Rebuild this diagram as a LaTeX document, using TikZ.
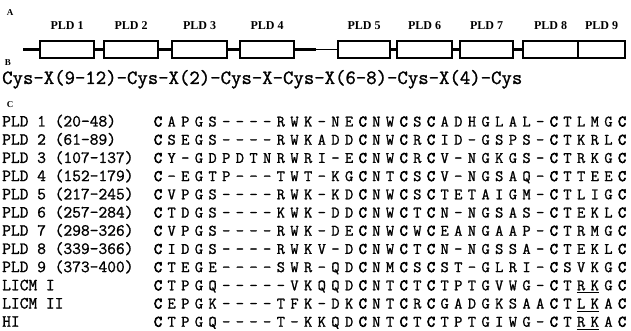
\documentclass[tikz,border=0pt]{standalone}
\usepackage{fontspec}
\newfontfamily\panelfont{Liberation Serif}
\newfontfamily\monoreg{lmmono12-regular.otf}[BoldFont=lmmono12-regular.otf, BoldFeatures={FakeBold=1.2}]
\newfontfamily\monoheavy{lmmono12-regular.otf}[BoldFont=lmmono12-regular.otf, BoldFeatures={FakeBold=3.8}]
\def\seqC{C}
\tikzset{
  panel/.style={font=\panelfont\bfseries\fontsize{9}{9}\selectfont, inner sep=0pt},
  pldbox/.style={draw, line width=2.1pt, minimum height=17pt, inner sep=0pt},
  pldlab/.style={font=\panelfont\bfseries\fontsize{12}{12}\selectfont, inner sep=0pt, anchor=base},
  backbone/.style={line width=2.1pt},
  thinbone/.style={line width=1pt},
  rowlab/.style={font=\monoreg\bfseries\fontsize{17}{17}\selectfont, inner sep=0pt, anchor=base west},
  seqch/.style={font=\monoreg\bfseries\fontsize{16}{16}\selectfont, inner sep=0pt, anchor=base},
  motif/.style={font=\monoreg\bfseries\fontsize{20.2}{21}\selectfont, inner sep=0pt, anchor=base west},
  ul/.style={line width=1pt}
}
\begin{document}
\begin{tikzpicture}[x=1pt,y=1pt]
\useasboundingbox (0,0) rectangle (631,-331);
% panel letters
\node[panel] (pA) at (10,-13) {A};
\node[panel] (pB) at (8,-63) {B};
\node[panel] (pC) at (10,-105) {C};
% panel A boxes
\foreach \i/\c/\w in {1/67/54, 2/131/54, 3/199.5/55, 4/267/54, 5/364/52, 6/424.5/55, 7/486.5/53, 8/550.5/55, 9/601.5/47}{
  \node[pldbox, minimum width=\w pt] (p\i) at (\c,-49.5) {};
  \node[pldlab] (l\i) at ([yshift=10pt]p\i.north) {PLD \i};
}
\coordinate (st) at (23,-49.5);
\coordinate (mid) at (316,-49.5);
\draw[backbone] (st) -- (p1.west);
\draw[backbone] (p1.east) -- (p2.west);
\draw[backbone] (p2.east) -- (p3.west);
\draw[backbone] (p3.east) -- (p4.west);
\draw[backbone] (p4.east) -- (mid);
\draw[thinbone] (mid) -- (p5.west);
\draw[backbone] (p5.east) -- (p6.west);
\draw[backbone] (p6.east) -- (p7.west);
\draw[backbone] (p7.east) -- (p8.west);
% panel B
\node[motif] (cys) at (2,-84) {Cys-X(9-12)-Cys-X(2)-Cys-X-Cys-X(6-8)-Cys-X(4)-Cys};
% panel C
\foreach \lab/\seq [count=\i] in {
 {PLD 1 (20-48)}/{C,A,P,G,S,-,-,-,-,R,W,K,-,N,E,C,N,W,C,S,C,A,D,H,G,L,A,L,-,C,T,L,M,G,C},
 {PLD 2 (61-89)}/{C,S,E,G,S,-,-,-,-,R,W,K,A,D,D,C,N,W,C,R,C,I,D,-,G,S,P,S,-,C,T,K,R,L,C},
 {PLD 3 (107-137)}/{C,Y,-,G,D,P,D,T,N,R,W,R,I,-,E,C,N,W,C,R,C,V,-,N,G,K,G,S,-,C,T,R,K,G,C},
 {PLD 4 (152-179)}/{C,-,E,G,T,P,-,-,-,T,W,T,-,K,G,C,N,T,C,S,C,V,-,N,G,S,A,Q,-,C,T,T,E,E,C},
 {PLD 5 (217-245)}/{C,V,P,G,S,-,-,-,-,R,W,K,-,K,D,C,N,W,C,S,C,T,E,T,A,I,G,M,-,C,T,L,I,G,C},
 {PLD 6 (257-284)}/{C,T,D,G,S,-,-,-,-,K,W,K,-,D,D,C,N,W,C,T,C,N,-,N,G,S,A,S,-,C,T,E,K,L,C},
 {PLD 7 (298-326)}/{C,V,P,G,S,-,-,-,-,R,W,K,-,D,E,C,N,W,C,W,C,E,A,N,G,A,A,P,-,C,T,R,M,G,C},
 {PLD 8 (339-366)}/{C,I,D,G,S,-,-,-,-,R,W,K,V,-,D,C,N,W,C,T,C,N,-,N,G,S,S,A,-,C,T,E,K,L,C},
 {PLD 9 (373-400)}/{C,T,E,G,E,-,-,-,-,S,W,R,-,Q,D,C,N,M,C,S,C,S,T,-,G,L,R,I,-,C,S,V,K,G,C},
 {LICM I}/{C,T,P,G,Q,-,-,-,-,-,V,K,Q,Q,D,C,N,T,C,T,C,T,P,T,G,V,W,G,-,C,T,R,K,G,C},
 {LICM II}/{C,E,P,G,K,-,-,-,-,T,F,K,-,D,K,C,N,T,C,R,C,G,A,D,G,K,S,A,A,C,T,L,K,A,C},
 {HI}/{C,T,P,G,Q,-,-,-,-,T,-,K,K,Q,D,C,N,T,C,T,C,T,P,T,G,I,W,G,-,C,T,R,K,A,C}}{
  \pgfmathsetmacro{\yy}{-(126.5+18.2*(\i-1))}
  \node[rowlab] (lab\i) at (2,\yy) {\lab};
  \foreach \ch [count=\j] in \seq {
    \pgfmathsetmacro{\xx}{158+13.65*(\j-1)}
    \edef\tmpch{\ch}
    \node[seqch] (s\i-\j) at (\xx,\yy) {\ifx\tmpch\seqC\monoheavy\bfseries\fi\ch};
  }
}
\draw[ul] ([yshift=-2.5pt]s10-32.base west) -- ([yshift=-2.5pt]s10-33.base east);
\draw[ul] ([yshift=-2.5pt]s11-32.base west) -- ([yshift=-2.5pt]s11-33.base east);
\draw[ul] ([yshift=-2.5pt]s12-32.base west) -- ([yshift=-2.5pt]s12-33.base east);
\end{tikzpicture}
\end{document}
